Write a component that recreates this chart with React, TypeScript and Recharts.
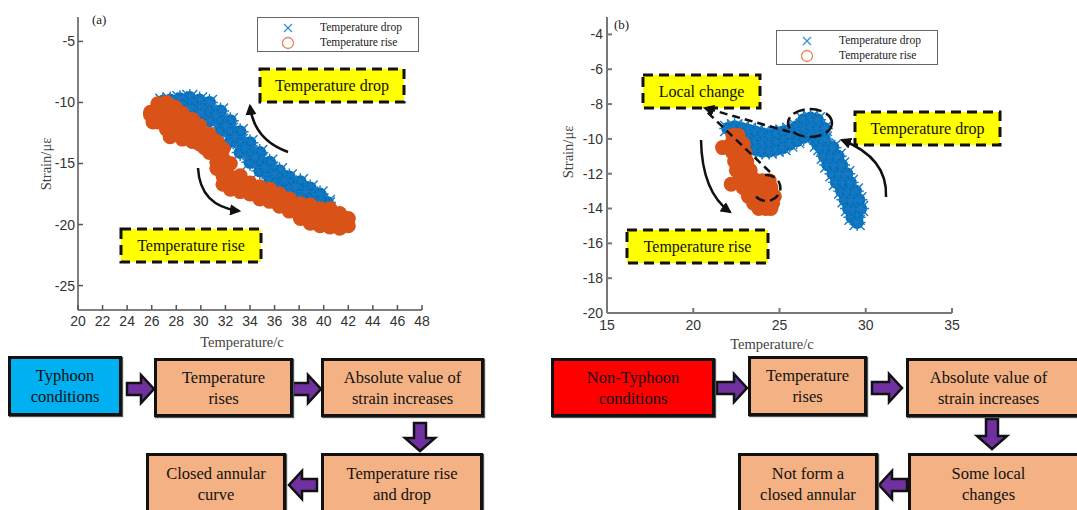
import React from 'react'
import { ScatterChart, Scatter, XAxis, YAxis } from 'recharts'

// ---- data (centres of the dense marker bands) ----
const dropA: [number, number][] = [
  [26.9, -9.9], [26.9, -10.4], [27.5, -9.8], [27.5, -10.3], [28.3, -9.7], [28.3, -10.2],
  [29.1, -9.6], [29.1, -10.1], [29.1, -10.5], [29.9, -9.8], [29.9, -10.4], [29.9, -10.9],
  [30.7, -10.0], [30.7, -10.8], [30.7, -11.5], [31.6, -10.7], [31.6, -11.5], [31.6, -12.3],
  [32.4, -11.5], [32.4, -12.3], [32.4, -13.2], [33.2, -12.4], [33.2, -13.2], [33.2, -14.1],
  [34.0, -13.3], [34.0, -14.1], [34.0, -14.9], [34.8, -14.1], [34.8, -14.8], [34.8, -15.6],
  [35.6, -14.9], [35.6, -15.6], [35.6, -16.2], [36.4, -15.6], [36.4, -16.2], [36.4, -16.8],
  [37.2, -16.1], [37.2, -16.6], [37.2, -17.2], [38.1, -16.5], [38.1, -17.1], [38.1, -17.6],
  [38.9, -17.0], [38.9, -17.5], [38.9, -18.0], [39.7, -17.5], [39.7, -18.1], [40.3, -18.2],
  [40.3, -18.4], [31.2, -11.0], [32.0, -11.9], [32.8, -12.8], [33.6, -13.7], [34.4, -14.5],
  [35.2, -15.3], [36.0, -15.9], [36.8, -16.4], [37.7, -16.9], [38.5, -17.3],
]
const riseA: [number, number][] = [
  [25.9, -10.8], [25.9, -11.0], [26.5, -10.1], [26.5, -11.0], [26.5, -11.6],
  [27.2, -10.0], [27.2, -11.0], [27.2, -12.2], [27.9, -10.4], [27.9, -11.5], [27.9, -12.6],
  [28.5, -10.9], [28.5, -12.0], [28.5, -13.0], [29.3, -11.4], [29.3, -12.3], [29.3, -13.2],
  [29.9, -11.9], [29.9, -12.6], [29.9, -13.4], [30.7, -12.6], [30.7, -13.4], [30.7, -14.1],
  [31.3, -13.2], [31.3, -14.3], [31.3, -15.4], [31.8, -13.8], [31.8, -15.4], [31.8, -16.7],
  [32.4, -15.0], [32.4, -16.1], [32.4, -17.1], [33.2, -16.0], [33.2, -16.8], [33.2, -17.3],
  [34.0, -16.6], [34.0, -17.1], [34.0, -17.5], [34.8, -16.9], [34.8, -17.4], [34.8, -17.9],
  [35.6, -17.1], [35.6, -17.6], [35.6, -18.1], [36.4, -17.5], [36.4, -18.0], [36.4, -18.5],
  [37.2, -17.9], [37.2, -18.4], [37.2, -18.9], [38.1, -18.3], [38.1, -18.9], [38.1, -19.5],
  [38.9, -18.4], [38.9, -19.1], [38.9, -19.9], [39.7, -18.7], [39.7, -19.4], [39.7, -20.1],
  [40.5, -18.7], [40.5, -19.4], [40.5, -20.2], [41.3, -19.1], [41.3, -19.7], [41.3, -20.3],
  [42.0, -19.5], [42.0, -20.1], [26.1, -11.6], [27.5, -12.8],
  [31.3, -13.8], [31.3, -14.9], [31.8, -14.6], [31.8, -16.0], [32.1, -16.6], [32.8, -16.6],
  [30.3, -12.8], [30.3, -13.7], [28.9, -11.8], [33.6, -17.0],
]
const dropB: [number, number][] = [
  [22.0, -9.4], [22.4, -9.3], [22.4, -9.8], [22.8, -9.4], [22.8, -9.9], [22.8, -10.3],
  [23.2, -9.5], [23.2, -10.0], [23.2, -10.5], [23.6, -9.6], [23.6, -10.1], [23.6, -10.6],
  [24.0, -9.7], [24.0, -10.2], [24.0, -10.7], [24.4, -9.8], [24.4, -10.3], [24.4, -10.7],
  [24.8, -9.7], [24.8, -10.2], [24.8, -10.6], [25.2, -9.6], [25.2, -10.1], [25.2, -10.5],
  [25.6, -9.5], [25.6, -9.9], [25.6, -10.3], [26.0, -9.3], [26.0, -9.7], [26.0, -10.1],
  [26.4, -8.9], [26.4, -9.4], [26.4, -9.9], [26.8, -8.8], [26.8, -9.3], [26.8, -9.8],
  [27.2, -8.9], [27.2, -9.4], [27.2, -9.9], [27.2, -10.3], [27.6, -9.4], [27.6, -10.0], [27.6, -10.5],
  [27.4, -10.5], [27.8, -10.5], [28.1, -10.5], [27.6, -11.0], [28.0, -11.0], [28.4, -11.0],
  [27.8, -11.5], [28.2, -11.5], [28.6, -11.5], [28.1, -12.0], [28.5, -12.0], [28.9, -12.0],
  [28.3, -12.5], [28.7, -12.5], [29.1, -12.5], [28.6, -13.0], [29.0, -13.0], [29.4, -13.0],
  [28.8, -13.5], [29.2, -13.5], [29.6, -13.5], [29.0, -14.0], [29.4, -14.0], [29.7, -14.0],
  [29.2, -14.5], [29.5, -14.5], [29.5, -14.8],
]
const riseB: [number, number][] = [
  [22.3, -9.8], [22.6, -9.8], [22.2, -10.3], [22.6, -10.3], [22.9, -10.3],
  [22.3, -10.8], [22.7, -10.8], [23.0, -10.8], [22.4, -11.3], [22.8, -11.3], [23.1, -11.3],
  [22.5, -11.8], [22.9, -11.8], [23.3, -11.8], [22.7, -12.3], [23.1, -12.3], [23.5, -12.3],
  [22.9, -12.8], [23.3, -12.8], [23.7, -12.8], [24.1, -12.8], [24.5, -12.8],
  [23.2, -13.3], [23.6, -13.3], [24.0, -13.3], [24.4, -13.3], [24.7, -13.3],
  [23.5, -13.7], [23.9, -13.7], [24.3, -13.7], [24.6, -13.7], [23.8, -14.0], [24.2, -14.0],
  [24.5, -14.0], [24.0, -12.4], [24.4, -12.4], [21.7, -10.5], [22.2, -12.6],
]

const xTicksA = [20, 22, 24, 26, 28, 30, 32, 34, 36, 38, 40, 42, 44, 46, 48]
const yTicksA = [-25, -20, -15, -10, -5]
const xTicksB = [15, 20, 25, 30, 35]
const yTicksB = [-20, -18, -16, -14, -12, -10, -8, -6, -4]

const toPts = (a: [number, number][]) => a.map(([x, y]) => ({ x, y }))

const BLUE = '#0072BD'
const ORANGE = '#D95319'
const SERIF = '"Liberation Serif", "Times New Roman", serif'

const BlueMark = (p: any) => {
  const { cx, cy } = p
  return (
    <g>
      <circle cx={cx} cy={cy} r={6.5} fill={BLUE} />
      <path
        d={`M${cx - 7.5},${cy - 7.5}L${cx + 7.5},${cy + 7.5}M${cx + 7.5},${cy - 7.5}L${cx - 7.5},${cy + 7.5}M${cx - 8.5},${cy}L${cx + 8.5},${cy}M${cx},${cy - 8.5}L${cx},${cy + 8.5}`}
        stroke="#1a78c2"
        strokeWidth={1.4}
      />
    </g>
  )
}

const OrangeMark = (p: any) => <circle cx={p.cx} cy={p.cy} r={7.5} fill={ORANGE} />

const Legend = ({ left, top }: { left: number; top: number }) => (
  <div
    style={{
      position: 'absolute', left, top, width: 162, height: 35, border: '1.5px solid #666',
      background: '#fff', boxSizing: 'border-box', fontFamily: SERIF, fontSize: 11.5, color: '#222',
    }}
  >
    <svg width={30} height={35} style={{ position: 'absolute', left: 24, top: 0 }}>
      <path d="M2,6L10,14M10,6L2,14" stroke="#3a8fd0" strokeWidth={1.3} />
      <circle cx={6} cy={25} r={5.5} fill="none" stroke="#E8825A" strokeWidth={1.3} />
    </svg>
    <div style={{ position: 'absolute', left: 62, top: 2, lineHeight: '15px' }}>Temperature drop</div>
    <div style={{ position: 'absolute', left: 62, top: 17, lineHeight: '15px' }}>Temperature rise</div>
  </div>
)

type BoxProps = { x: number; y: number; w: number; h: number; fill: string; text: string[]; pr?: number }
const FlowBox = ({ x, y, w, h, fill, text, pr = 0 }: BoxProps) => (
  <div
    style={{
      position: 'absolute', left: x, top: y, width: w, height: h, background: fill,
      border: '3px solid #111', boxSizing: 'border-box', display: 'flex', flexDirection: 'column',
      alignItems: 'center', justifyContent: 'center', fontFamily: SERIF, fontSize: 16.5,
      lineHeight: '21px', color: '#111', paddingRight: pr, boxShadow: '1px 1px 1px #555',
    }}
  >
    {text.map((t) => (
      <div key={t}>{t}</div>
    ))}
  </div>
)

const blockArrow = (x0: number, x1: number, c: number, dir: 'r' | 'l' | 'd') => {
  const s = 6
  const hw = 14
  const hl = 13
  let pts: number[][]
  if (dir === 'r') {
    pts = [[x0, c - s], [x1 - hl, c - s], [x1 - hl, c - hw], [x1, c], [x1 - hl, c + hw], [x1 - hl, c + s], [x0, c + s]]
  } else if (dir === 'l') {
    pts = [[x1, c - s], [x0 + hl, c - s], [x0 + hl, c - hw], [x0, c], [x0 + hl, c + hw], [x0 + hl, c + s], [x1, c + s]]
  } else {
    // vertical: x0..x1 are y values, c is x centre
    pts = [[c - s, x0], [c - s, x1 - hl], [c - hw - 1, x1 - hl], [c, x1], [c + hw + 1, x1 - hl], [c + s, x1 - hl], [c + s, x0]]
  }
  return (
    <polygon
      key={`${x0}-${c}-${dir}`}
      points={pts.map((p) => p.join(',')).join(' ')}
      fill="#7030A0"
      stroke="#111"
      strokeWidth={2.5}
      strokeLinejoin="miter"
    />
  )
}

const YellowBox = ({ x, y, w, h, label }: { x: number; y: number; w: number; h: number; label: string }) => (
  <g>
    <rect x={x} y={y} width={w} height={h} fill="#FFFF00" stroke="#111" strokeWidth={3} strokeDasharray="10 6" />
    <text x={x + w / 2} y={y + h / 2 + 5.5} textAnchor="middle" fontFamily={SERIF} fontSize={16} fill="#111">
      {label}
    </text>
  </g>
)

export default function App() {
  const axisStroke = '#555'
  return (
    <div
      style={{
        position: 'absolute', left: 0, top: 0, width: 1077, height: 510, overflow: 'hidden',
        background: '#fff', fontFamily: SERIF,
      }}
    >
      {/* (a) */}
      <div style={{ position: 'absolute', left: 0, top: 0 }}>
        <ScatterChart width={440} height={340} margin={{ top: 17, right: 18, bottom: 0, left: 0 }}>
          <XAxis
            type="number" dataKey="x" domain={[20, 48]} ticks={xTicksA} height={30}
            stroke={axisStroke} strokeWidth={1.5} tickSize={-5} tickMargin={11} interval={0}
            tick={{ fill: '#333', fontSize: 14, fontFamily: '"Liberation Sans Narrow", "Liberation Sans", sans-serif' }}
          />
          <YAxis
            type="number" dataKey="y" domain={[-27, -3]} ticks={yTicksA} width={78}
            stroke={axisStroke} strokeWidth={1.5} tickSize={-5} tickMargin={8} interval={0}
            tick={{ fill: '#333', fontSize: 14, fontFamily: '"Liberation Sans Narrow", "Liberation Sans", sans-serif' }}
          />
          <Scatter data={toPts(dropA)} shape={BlueMark} isAnimationActive={false} />
          <Scatter data={toPts(riseA)} shape={OrangeMark} isAnimationActive={false} />
        </ScatterChart>
      </div>

      {/* (b) */}
      <div style={{ position: 'absolute', left: 540, top: 0 }}>
        <ScatterChart width={460} height={350} margin={{ top: 17, right: 48, bottom: 0, left: 0 }}>
          <XAxis
            type="number" dataKey="x" domain={[15, 35]} ticks={xTicksB} height={37}
            stroke="#777" strokeWidth={2} tickSize={-5} tickMargin={12} interval={0}
            tick={{ fill: '#333', fontSize: 14, fontFamily: '"Liberation Sans", Arial, sans-serif' }}
          />
          <YAxis
            type="number" dataKey="y" domain={[-20, -3]} ticks={yTicksB} width={67}
            stroke="#777" strokeWidth={2} tickSize={-5} tickMargin={9} interval={0}
            tick={{ fill: '#333', fontSize: 14, fontFamily: '"Liberation Sans", Arial, sans-serif' }}
          />
          <Scatter data={toPts(dropB)} shape={BlueMark} isAnimationActive={false} />
          <Scatter data={toPts(riseB)} shape={OrangeMark} isAnimationActive={false} />
        </ScatterChart>
      </div>

      <Legend left={257} top={17} />
      <Legend left={776} top={30} />

      {/* annotations */}
      <svg width={1077} height={510} style={{ position: 'absolute', left: 0, top: 0, pointerEvents: 'none' }}>
        <defs>
          <marker id="ah" viewBox="0 0 10 10" refX={8} refY={5} markerWidth={4.5} markerHeight={4.5} orient="auto-start-reverse">
            <path d="M0,0L10,5L0,10z" fill="#111" />
          </marker>
        </defs>
        <text x={92} y={24} fontFamily={SERIF} fontSize={13} fill="#222">(a)</text>
        <text x={614} y={29} fontFamily={SERIF} fontSize={13} fill="#222">(b)</text>

        <text x={242} y={347} textAnchor="middle" fontFamily={SERIF} fontSize={14.5} fill="#444">Temperature/c</text>
        <text x={0} y={0} transform="translate(51,164) rotate(-90)" textAnchor="middle" fontFamily={SERIF} fontSize={14.5} fill="#444">Strain/με</text>
        <text x={772} y={349} textAnchor="middle" fontFamily={SERIF} fontSize={14.5} fill="#444">Temperature/c</text>
        <text x={0} y={0} transform="translate(573,152) rotate(-90)" textAnchor="middle" fontFamily={SERIF} fontSize={14.5} fill="#444">Strain/με</text>

        {/* (a) annotations */}
        <YellowBox x={260} y={69} w={144} h={33} label="Temperature drop" />
        <YellowBox x={121} y={229} w={140} h={33} label="Temperature rise" />
        <path d="M288,152 Q254,140 250,106" fill="none" stroke="#111" strokeWidth={2.5} markerEnd="url(#ah)" />
        <path d="M198,168 Q200,206 239,211" fill="none" stroke="#111" strokeWidth={2.5} markerEnd="url(#ah)" />

        {/* (b) annotations */}
        <YellowBox x={643} y={75} w={117} h={33} label="Local change" />
        <YellowBox x={855} y={112} w={145} h={33} label="Temperature drop" />
        <YellowBox x={627} y={230} w={141} h={33} label="Temperature rise" />
        <path d="M701,140 Q702,192 730,212" fill="none" stroke="#111" strokeWidth={2.5} markerEnd="url(#ah)" />
        <path d="M886,197 Q888,158 842,140" fill="none" stroke="#111" strokeWidth={2.5} markerEnd="url(#ah)" />
        <path d="M790,132 L705,108" fill="none" stroke="#111" strokeWidth={2.5} strokeDasharray="8 5" markerEnd="url(#ah)" />
        <path d="M770,172 L706,111" fill="none" stroke="#111" strokeWidth={2.5} strokeDasharray="8 5" />
        <ellipse cx={810} cy={123} rx={22} ry={14} fill="none" stroke="#111" strokeWidth={2.5} strokeDasharray="12 5" />
        <path d="M765,175 A14 13 0 1 1 754,194" fill="none" stroke="#111" strokeWidth={2.5} strokeDasharray="10 5" />

        {/* flow chart arrows */}
        {blockArrow(127, 154, 389, 'r')}
        {blockArrow(293, 321, 389, 'r')}
        {blockArrow(423, 451, 420, 'd')}
        {blockArrow(289, 317, 485, 'l')}
        {blockArrow(717, 747, 388, 'r')}
        {blockArrow(872, 902, 388, 'r')}
        {blockArrow(419, 449, 992, 'd')}
        {blockArrow(879, 907, 485, 'l')}
      </svg>

      {/* flow chart boxes */}
      <FlowBox x={8} y={356} w={114} h={60} fill="#00B0F0" text={['Typhoon', 'conditions']} />
      <FlowBox x={154} y={358} w={139} h={59} fill="#F4B183" text={['Temperature', 'rises']} />
      <FlowBox x={321} y={358} w={163} h={59} fill="#F4B183" text={['Absolute value of', 'strain increases']} />
      <FlowBox x={321} y={453} w={162} h={62} fill="#F4B183" text={['Temperature rise', 'and drop']} />
      <FlowBox x={146} y={453} w={140} h={62} fill="#F4B183" text={['Closed annular', 'curve']} />

      <FlowBox x={551} y={358} w={164} h={59} fill="#FF0000" text={['Non-Typhoon', 'conditions']} />
      <FlowBox x={748} y={356} w={119} h={60} fill="#F4B183" text={['Temperature', 'rises']} />
      <FlowBox x={906} y={358} w={185} h={59} fill="#F4B183" pr={20} text={['Absolute value of', 'strain increases']} />
      <FlowBox x={908} y={453} w={185} h={62} fill="#F4B183" pr={24} text={['Some local', 'changes']} />
      <FlowBox x={738} y={453} w={140} h={62} fill="#F4B183" text={['Not form a', 'closed annular']} />
    </div>
  )
}
